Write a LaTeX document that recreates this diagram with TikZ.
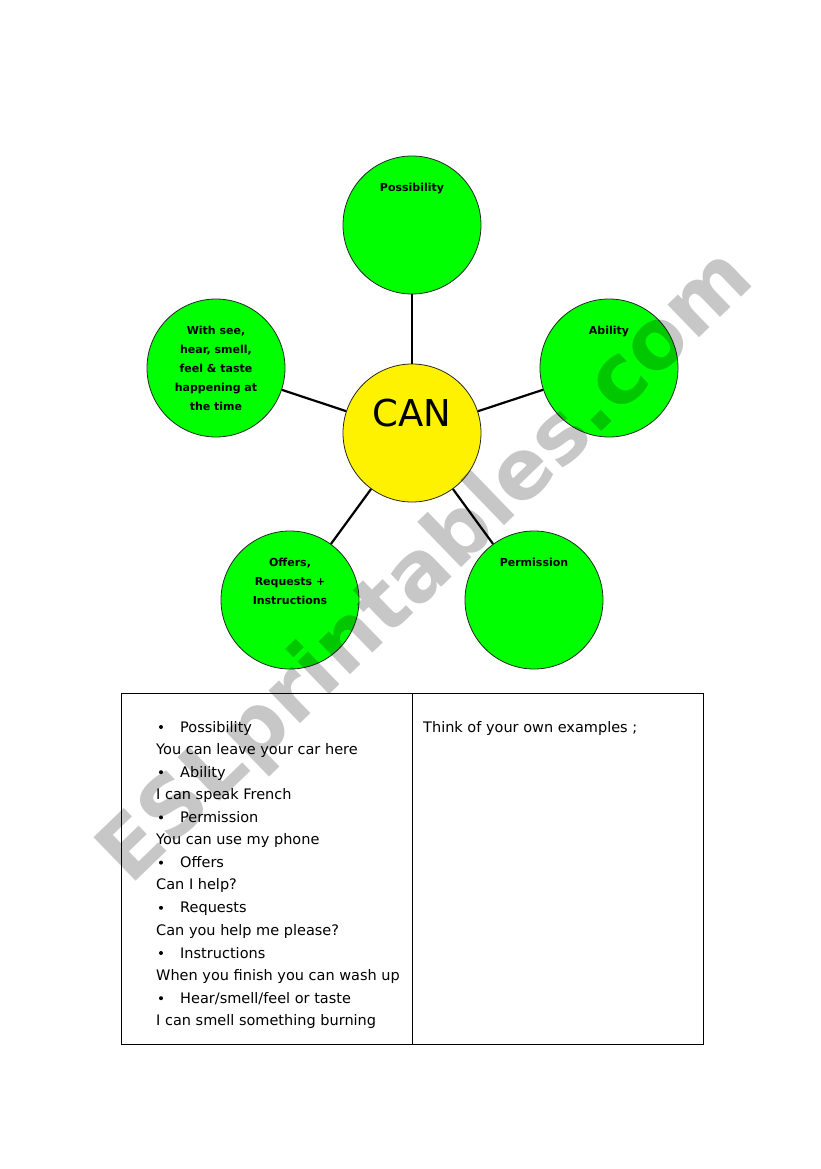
\documentclass[tikz,border=0pt]{standalone}
\usepackage{fontspec}
\setmainfont{DejaVu Sans}
\usetikzlibrary{positioning}

\tikzset{
  bubble/.style={circle,draw=black!85,line width=0.8pt,fill=green,minimum size=138pt,inner sep=0pt},
  hub/.style={bubble,fill=yellow},
  tag/.style={font=\fontsize{11}{19}\selectfont\bfseries,align=center,inner sep=0pt},
  spoke/.style={line width=2.2pt},
  row/.style={anchor=base west,inner sep=0pt,font=\fontsize{14.5}{17}\selectfont},
  dot/.style={circle,fill=black,inner sep=0pt,minimum size=4pt},
}

\begin{document}
\begin{tikzpicture}[x=1pt,y=-1pt]
\useasboundingbox (0,0) rectangle (821,1169);
% mind map
\node[hub] (can) at (412,433) {};
\node[font=\fontsize{37}{37}\selectfont,inner sep=0pt] (canText) at (412,413) {CAN};
\node[bubble] (poss) at (412,225) {};
\node[bubble] (abil) at (609,368) {};
\node[bubble] (sense) at (216,368) {};
\node[bubble] (offer) at (290,600) {};
\node[bubble] (perm) at (534,600) {};
\node[tag,below=27pt of poss.north] (possTag) {Possibility};
\node[tag,below=27pt of abil.north] (abilTag) {Ability};
\node[tag,below=27pt of sense.north] (senseTag) {With see,\\hear, smell,\\feel \& taste\\happening at\\the time};
\node[tag,below=27pt of offer.north] (offerTag) {Offers,\\Requests +\\Instructions};
\node[tag,below=27pt of perm.north] (permTag) {Permission};
\foreach \leaf in {poss,abil,sense,offer,perm}
  \draw[spoke] (can) -- (\leaf);
% table
\draw[line width=0.8pt] (121,693) rectangle (703,1044);
\draw[line width=0.8pt] (412,693) -- (412,1044);
\foreach \txt [count=\i from 0] in {Possibility,Ability,Permission,Offers,Requests,Instructions,Hear/smell/feel or taste}{
  \node[dot] (dot\i) at (161,{727+45.2*\i}) {};
  \node[row] (head\i) at (180,{732+45.2*\i}) {\txt};
}
\foreach \txt [count=\i from 0] in {You can leave your car here,I can speak French,You can use my phone,Can I help?,Can you help me please?,When you finish you can wash up,I can smell something burning}
  \node[row] (ex\i) at (156,{754+45.3*\i}) {\txt};
\node[row] (think) at (423,732) {Think of your own examples ;};
% watermark
\node[rotate=44,font=\fontsize{83}{83}\selectfont\bfseries,text=black,text opacity=0.22,inner sep=0pt] (mark) at (428,568) {ESLprintables.com};
\end{tikzpicture}
\end{document}
